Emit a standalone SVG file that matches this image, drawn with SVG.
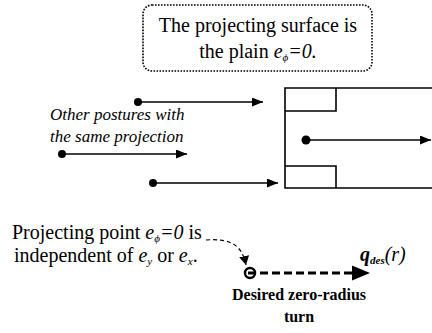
<svg xmlns="http://www.w3.org/2000/svg" width="432" height="333" viewBox="0 0 432 333">
<style>
text{font-family:"Liberation Serif","Times New Roman",serif;fill:#000}
.up{font-size:20px}
.it{font-size:17px;font-style:italic}
.bd{font-size:16px;font-weight:bold}
.ln{stroke:#000;stroke-width:1.6;fill:none}
.dot{fill:#000}
</style>
<defs>
<marker id="ah" markerUnits="userSpaceOnUse" markerWidth="12" markerHeight="10" refX="11" refY="4.5" orient="auto">
<path d="M0,0 L11,4.5 L0,9 z" fill="#000"/>
</marker>
<marker id="ahs" markerUnits="userSpaceOnUse" markerWidth="10" markerHeight="12" refX="9" refY="5" orient="auto">
<path d="M0,0 L9,5 L0,10 z" fill="#000"/>
</marker>
</defs>
<g id="note">
<rect x="143" y="5" width="229" height="66" rx="9" ry="9" fill="none" stroke="#000" stroke-width="1.6" stroke-dasharray="1.6 1.4"/>
<text class="up" x="258" y="32" text-anchor="middle">The projecting surface is</text>
<text class="up" x="258" y="58" text-anchor="middle">the plain <tspan font-style="italic">e</tspan><tspan font-style="italic" font-size="11" dy="3">ϕ</tspan><tspan font-style="italic" dy="-3">=0.</tspan></text>
</g>
<g id="surface">
<path class="ln" d="M432,88 H285 V188 H432"/>
<path class="ln" d="M285,111 H336 V88"/>
<path class="ln" d="M285,166 H336 V188"/>
</g>
<g id="label-other">
<text class="it" x="50" y="120">Other postures with</text>
<text class="it" x="50" y="142">the same projection</text>
</g>
<g id="label-projecting">
<text class="up" x="12" y="239">Projecting point <tspan font-style="italic">e</tspan><tspan font-style="italic" font-size="11" dy="3">ϕ</tspan><tspan font-style="italic" dy="-3">=0</tspan> is</text>
<text class="up" x="14" y="262">independent of <tspan font-style="italic">e</tspan><tspan font-style="italic" font-size="11" dy="3">y</tspan><tspan dy="-3"> or </tspan><tspan font-style="italic">e</tspan><tspan font-style="italic" font-size="11" dy="3">x</tspan><tspan dy="-3">.</tspan></text>
</g>
<g id="qdes">
<text x="360" y="261" font-size="20" font-style="italic"><tspan font-weight="bold">q</tspan><tspan font-weight="bold" font-size="11" dy="3">des</tspan><tspan dy="-3">(r)</tspan></text>
</g>
<g id="label-desired">
<text class="bd" x="299" y="300" text-anchor="middle">Desired zero-radius</text>
<text class="bd" x="299" y="322" text-anchor="middle">turn</text>
</g>
<g id="connectors">
<circle class="dot" cx="138" cy="102" r="4"/>
<line class="ln" x1="138" y1="102" x2="263" y2="102" marker-end="url(#ah)"/>
<circle class="dot" cx="62" cy="154" r="4"/>
<line class="ln" x1="62" y1="154" x2="187" y2="154" marker-end="url(#ah)"/>
<circle class="dot" cx="153" cy="183" r="4"/>
<line class="ln" x1="153" y1="183" x2="278" y2="183" marker-end="url(#ah)"/>
<circle class="dot" cx="306" cy="140" r="4.5"/>
<line class="ln" x1="306" y1="140" x2="431" y2="140" marker-end="url(#ah)"/>
<path d="M206,240 C232,238 242,246 246,265" fill="none" stroke="#000" stroke-width="1.2" stroke-dasharray="4 3" marker-end="url(#ahs)"/>
<circle cx="250" cy="273" r="5" fill="none" stroke="#000" stroke-width="2.5"/>
<line x1="248" y1="273" x2="354" y2="273" stroke="#000" stroke-width="3" stroke-dasharray="8 4"/>
<polygon points="352,265.5 370,273 352,280.5" fill="#000"/>
</g>
</svg>
